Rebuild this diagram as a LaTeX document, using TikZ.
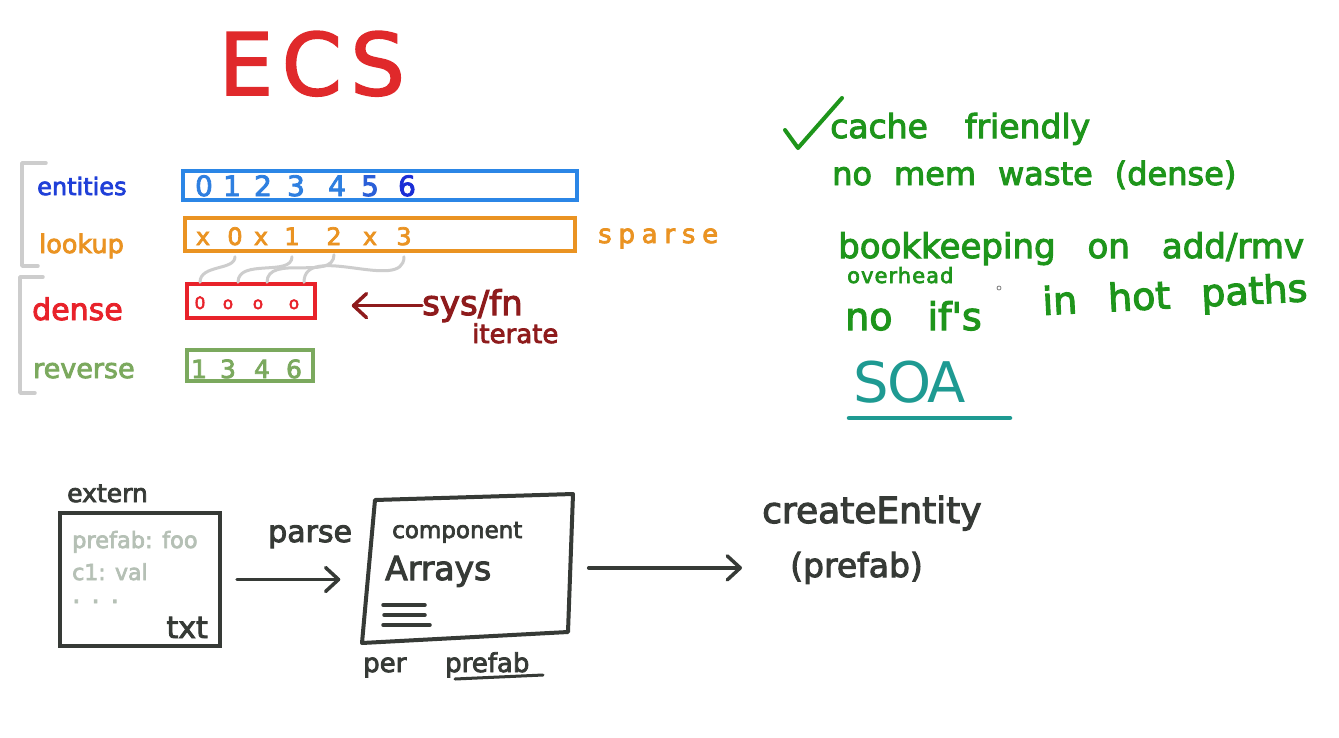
\documentclass[tikz,border=0pt]{standalone}
\usepackage{fontspec}
\setmainfont{DejaVu Sans}
\usetikzlibrary{arrows.meta}

\definecolor{ecsred}{HTML}{E0292B}
\definecolor{entbox}{HTML}{2B86E6}
\definecolor{entlab}{HTML}{1F3FD8}
\definecolor{entmid}{HTML}{2E7FE0}
\definecolor{entdeep}{HTML}{2A5FD8}
\definecolor{entdark}{HTML}{1A2ED6}
\definecolor{lookorange}{HTML}{EA9322}
\definecolor{densered}{HTML}{E8222A}
\definecolor{sysred}{HTML}{8E1B1C}
\definecolor{revgreen}{HTML}{7BA95E}
\definecolor{brgray}{HTML}{CDCDCD}
\definecolor{listgreen}{HTML}{1E951B}
\definecolor{soateal}{HTML}{1E9A92}
\definecolor{ink}{HTML}{363A36}
\definecolor{faint}{HTML}{B5C0B5}

% font size in points (1pt = 1 unit of the picture), with a marker-like stroke
\newcommand{\fsz}[1]{\fontsize{#1}{#1}\selectfont\addfontfeature{FakeBold=3}}
% same size setting with the plain stroke
\newcommand{\fszthin}[1]{\fontsize{#1}{#1}\selectfont}
% wider gaps between words
\newcommand{\wsp}[1]{\spaceskip=#1pt\relax}

\begin{document}
\begin{tikzpicture}[x=1pt,y=-1pt,
  lbl/.style={inner sep=0, anchor=base west},
  cell/.style={inner sep=0, anchor=base},
  arraybox/.style={draw=#1, line width=3.5, inner sep=0, fill=none},
  bracket/.style={draw=brgray, line width=3.5, line cap=round, line join=round},
  link/.style={draw=brgray, line width=3, line cap=round},
  penline/.style={line width=#1, line cap=round, line join=round},
  barb/.style={-{Straight Barb[length=13pt,width=24pt,round]}, line width=3.5, line cap=round}
]
\fill[white] (0,0) rectangle (1339,737);
\useasboundingbox (0,0) rectangle (1339,737);

% ---------- title ----------
\node[cell, text=ecsred, font=\fszthin{86}\addfontfeature{FakeBold=2,LetterSpace=10}] (ecs) at (312,95) {ECS};

% ---------- brackets grouping the arrays ----------
\draw[bracket] (46,163) -- (22,163) -- (22,266) -- (38,266);
\draw[bracket] (43,277) -- (20,277) -- (20,393) -- (35,393);

% ---------- row labels ----------
\node[lbl, text=entlab, font=\fsz{24}] (entl) at (37,195) {entities};
\node[lbl, text=lookorange, font=\fsz{25.5}] (lkl) at (39,253) {lookup};
\node[lbl, text=densered, font=\fsz{30}] (dnl) at (32,320) {dense};
\node[lbl, text=revgreen, font=\fsz{27}] (rvl) at (33,378) {reverse};

% ---------- array boxes ----------
\node[arraybox=entbox, minimum width=394, minimum height=29] (ebox) at (380,185.5) {};
\node[arraybox=lookorange, minimum width=390, minimum height=33] (lbox) at (380,234.5) {};
\node[arraybox=densered, minimum width=128, minimum height=34] (dbox) at (251,301) {};
\node[arraybox=revgreen, minimum width=126, minimum height=31] (rbox) at (250,365.5) {};

% entities
\begin{scope}[every node/.style={cell, font=\fsz{28}}]
\node[text=entmid] (e0) at (204,196) {0};
\node[text=entmid] (e1) at (232,196) {1};
\node[text=entmid] (e2) at (263,196) {2};
\node[text=entmid] (e3) at (296,196) {3};
\node[text=entmid] (e4) at (337,196) {4};
\node[text=entdeep] (e5) at (370,196) {5};
\node[text=entdark] (e6) at (407,196) {6};
\end{scope}

% lookup
\begin{scope}[every node/.style={cell, text=lookorange, font=\fsz{24}}]
\node (l0) at (203,245) {x};
\node (l1) at (235,245) {0};
\node (l2) at (261,245) {x};
\node (l3) at (292,245) {1};
\node (l4) at (334,245) {2};
\node (l5) at (370,245) {x};
\node (l6) at (404,245) {3};
\end{scope}
\node[lbl, text=lookorange, font=\fsz{26}\addfontfeature{LetterSpace=26}] (sparse) at (598,243) {sparse};

% dense
\begin{scope}[every node/.style={cell, text=densered, font=\fsz{17}}]
\node (d0) at (200,309) {0};
\node (d1) at (228,309) {o};
\node (d2) at (258,309) {o};
\node (d3) at (294,309) {o};
\end{scope}

% reverse
\begin{scope}[every node/.style={cell, text=revgreen, font=\fsz{25}}]
\node (r0) at (199,378) {1};
\node (r1) at (228,378) {3};
\node (r2) at (262,378) {4};
\node (r3) at (294,378) {6};
\end{scope}

% lookup -> dense links
\draw[link, shorten <=4pt] (l1 |- lbox.south) to[out=-90,in=90] (d0 |- dbox.north);
\draw[link, shorten <=4pt] (l3 |- lbox.south) to[out=-90,in=90] ([xshift=10pt]d1 |- dbox.north);
\draw[link, shorten <=2pt] (l4 |- lbox.south) to[out=-90,in=90] ([xshift=9pt]d2 |- dbox.north);
\draw[link, shorten <=4pt] (l6 |- lbox.south) to[out=-90,in=90] ([xshift=10pt]d3 |- dbox.north);

% system iterating the dense array
\node[lbl, text=sysred, font=\fsz{34}] (sys) at (422,315) {sys/fn};
\node[lbl, text=sysred, font=\fsz{26}] (iter) at (472,343) {iterate};
\draw[barb, draw=sysred, shorten >=35pt] (sys.west) -- (dbox.east |- sys.west);

% ---------- properties ----------
\draw[penline=4, draw=listgreen] (785,130) -- (798,148) -- (842,98);
\node[lbl, text=listgreen, font=\fsz{33}\wsp{37}] (p1) at (830,138) {cache friendly};
\node[lbl, text=listgreen, font=\fsz{32}\wsp{22}] (p2) at (832,185) {no mem waste (dense)};
\node[lbl, text=listgreen, font=\fsz{34}\wsp{32}] (p3) at (838,258) {bookkeeping on add/rmv};
\node[lbl, text=listgreen, font=\fsz{21}\addfontfeature{LetterSpace=5}] (p3b) at (847,283) {overhead};
\draw[gray, line width=0.8] (999,288) circle (2);
\node[lbl, text=listgreen, font=\fsz{38}\wsp{35}] (p4) at (845,330) {no if\textquotesingle s};
\node[lbl, text=listgreen, font=\fsz{38}\wsp{31}, rotate=3] (p4b) at (1043,315) {in hot paths};
\node[cell, text=soateal, font=\fszthin{56}\addfontfeature{LetterSpace=-4}] (soa) at (910,402) {SOA};
\draw[penline=4.5, draw=soateal] (849,418) -- (1010,418);

% ---------- prefab pipeline ----------
\node[lbl, text=ink, font=\fsz{25}] (extl) at (67,502) {extern};
\node[draw=ink, line width=4, inner sep=0, minimum width=160, minimum height=133] (ext) at (140,579.5) {};
\node[lbl, text=faint, font=\fsz{22.5}] (pf) at (72,548) {prefab: foo};
\node[lbl, text=faint, font=\fsz{22}] (cv) at (72,580) {c1: val};
\node[lbl, text=faint, font=\fsz{26}] (dots) at (72,603) {. . .};
\node[inner sep=0, anchor=base east, text=ink, font=\fsz{30}] (txt) at (208,638) {txt};

\node[lbl, text=ink, font=\fsz{30}] (parse) at (268,542) {parse};

% component arrays card
\node[inner sep=0, minimum width=211, minimum height=149] (cbox) at (468,568) {};
\draw[penline=4, draw=ink] (375,500) -- (573,494) -- (568,632) -- (362,643) -- cycle;
\node[lbl, text=ink, font=\fsz{23}] (comp) at (392,538) {component};
\node[lbl, text=ink, font=\fsz{33}] (arr) at (385,580) {Arrays};
\draw[penline=3.5, draw=ink] (383,605) -- (425,605);
\draw[penline=3.5, draw=ink] (384,615) -- (425,615);
\draw[penline=3.5, draw=ink] (383,625) -- (430,625);
\node[lbl, text=ink, font=\fsz{26}] (per) at (363,672) {per};
\node[lbl, text=ink, font=\fsz{26}] (pfb) at (445,672) {prefab};
\draw[penline=3, draw=ink] (455,679) -- (543,675);

\node[lbl, text=ink, font=\fsz{36}] (ce) at (762,523) {createEntity};
\node[lbl, text=ink, font=\fsz{33}] (cp) at (790,577) {(prefab)};

\draw[barb, draw=ink, shorten <=15pt, shorten >=22pt] (ext.east) -- (ext.east -| cbox.west);
\draw[barb, draw=ink, shorten <=15pt, shorten >=48pt] (cbox.east |- cp.west) -- (cp.west);
\end{tikzpicture}
\end{document}
